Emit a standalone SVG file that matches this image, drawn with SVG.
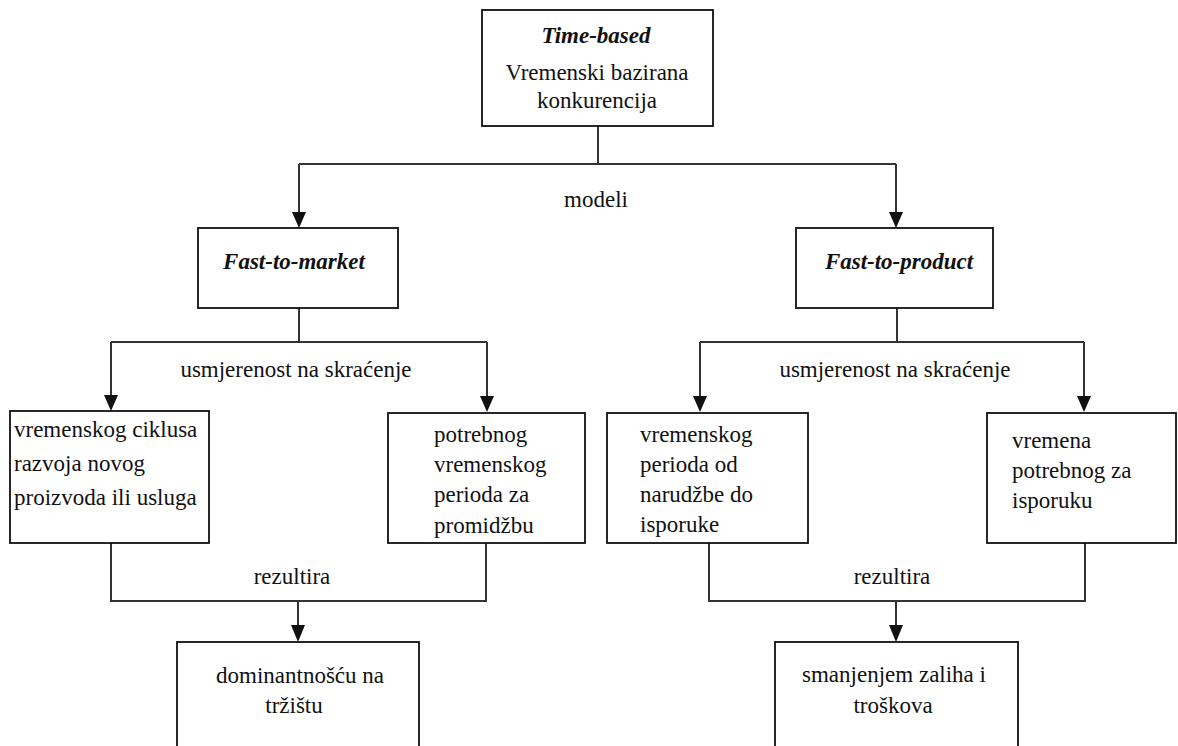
<svg xmlns="http://www.w3.org/2000/svg" width="1178" height="746" viewBox="0 0 1178 746" font-family="'Liberation Serif', 'DejaVu Serif', serif">
<style>
.box{fill:#fff;stroke:#111;stroke-width:1.8}
.ln{fill:none;stroke:#333;stroke-width:2}
text{font-family:'Liberation Serif','DejaVu Serif',serif;font-size:23px;fill:#111}
.c{text-anchor:middle}
.bi{font-weight:bold;font-style:italic}
</style>
<rect width="1178" height="746" fill="#fff"/>
<g id="connectors">
<path class="ln" d="M598,126 V164 M299,164 H896 M299,164 V214 M896,164 V214"/>
<path class="ln" d="M299,308 V342 M111,342 H487 M897,308 V342 M700,342 H1084"/>
<path class="ln" d="M111,342 V397 M487,342 V398 M700,342 V398 M1084,342 V398"/>
<path class="ln" d="M111,543 V601 H486 V543 M709,543 V601 H1085 V543"/>
<path class="ln" d="M298,601 V627 M896,601 V627"/>
<g fill="#111">
<polygon points="292,212 306,212 299,228"/>
<polygon points="889,212 903,212 896,228"/>
<polygon points="104,395 118,395 111,411"/>
<polygon points="480,396 494,396 487,412"/>
<polygon points="693,396 707,396 700,412"/>
<polygon points="1077,396 1091,396 1084,412"/>
<polygon points="291,625 305,625 298,642"/>
<polygon points="889,625 903,625 896,642"/>
</g>
<text class="c" x="596" y="207">modeli</text>
<text class="c" x="296" y="377">usmjerenost na skraćenje</text>
<text class="c" x="895" y="377">usmjerenost na skraćenje</text>
<text class="c" x="292" y="584">rezultira</text>
<text class="c" x="892" y="584">rezultira</text>
</g>
<g id="n-time-based">
<rect class="box" x="482" y="10" width="231" height="116"/>
<text class="c bi" x="596" y="43">Time-based</text>
<text class="c" x="597" y="80">Vremenski bazirana</text>
<text class="c" x="597" y="108">konkurencija</text>
</g>
<g id="n-fast-to-market">
<rect class="box" x="198" y="228" width="200" height="80"/>
<text class="c bi" x="294" y="269">Fast-to-market</text>
</g>
<g id="n-fast-to-product">
<rect class="box" x="796" y="228" width="197" height="80"/>
<text class="c bi" x="899" y="269">Fast-to-product</text>
</g>
<g id="n-ciklus">
<rect class="box" x="10" y="411" width="199" height="132"/>
<text x="14" y="437">vremenskog ciklusa</text>
<text x="14" y="471">razvoja novog</text>
<text x="14" y="505">proizvoda ili usluga</text>
</g>
<g id="n-promidzba">
<rect class="box" x="388" y="413" width="197" height="130"/>
<text x="434" y="442">potrebnog</text>
<text x="434" y="472">vremenskog</text>
<text x="434" y="502">perioda za</text>
<text x="434" y="533">promidžbu</text>
</g>
<g id="n-narudzba">
<rect class="box" x="607" y="413" width="201" height="130"/>
<text x="640" y="442">vremenskog</text>
<text x="640" y="472">perioda od</text>
<text x="640" y="502">narudžbe do</text>
<text x="640" y="532">isporuke</text>
</g>
<g id="n-isporuka">
<rect class="box" x="987" y="413" width="189" height="130"/>
<text x="1012" y="448">vremena</text>
<text x="1012" y="478">potrebnog za</text>
<text x="1012" y="508">isporuku</text>
</g>
<g id="n-dominantnost">
<rect class="box" x="177" y="642" width="242" height="120"/>
<text class="c" x="300" y="683">dominantnošću na</text>
<text class="c" x="294" y="713">tržištu</text>
</g>
<g id="n-zalihe">
<rect class="box" x="775" y="642" width="243" height="120"/>
<text class="c" x="894" y="682">smanjenjem zaliha i</text>
<text class="c" x="893" y="713">troškova</text>
</g>
</svg>
